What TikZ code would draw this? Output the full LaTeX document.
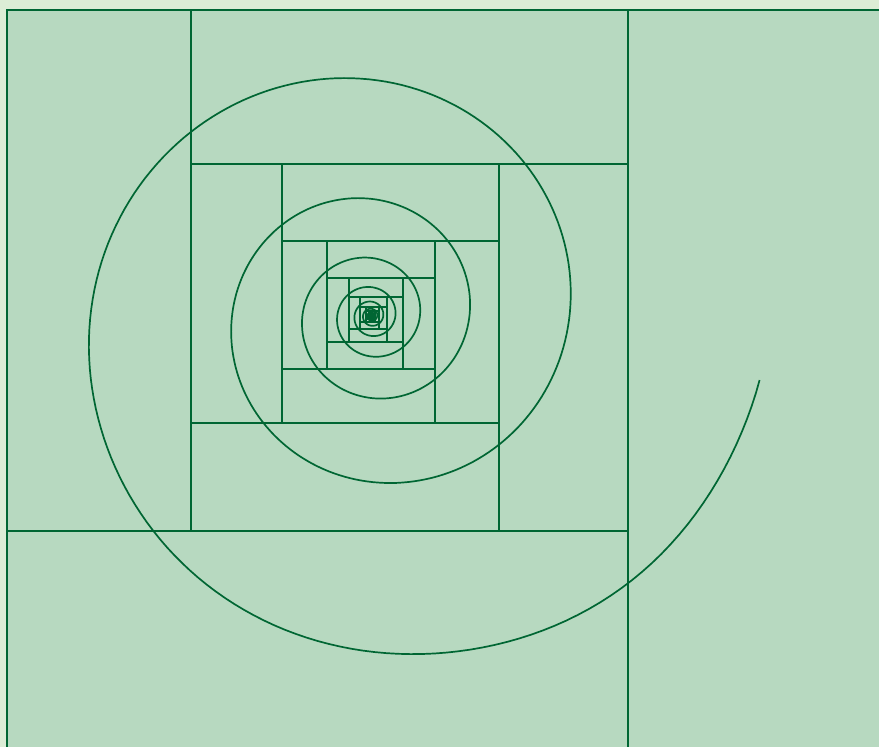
\documentclass[tikz,border=0pt]{standalone}
\usepackage{tikz}
\definecolor{bgout}{RGB}{220,237,214}
\definecolor{panel}{RGB}{183,217,192}
\definecolor{ink}{RGB}{0,102,51}
\tikzset{
  cutline/.style={draw=ink, line width=2pt},
  spiralline/.style={draw=ink, line width=1.7pt, line join=round},
}
\begin{document}
\begin{tikzpicture}[x=1pt, y=-1pt]
  \useasboundingbox (0,0) rectangle (879,747);
  \fill[bgout] (0,0) rectangle (879,747);
  \clip (0,0) rectangle (879,747);
  \def\cx{371.40}
  \def\cy{315.79}
  % outer panel
  \path[fill=panel, cutline] (7,10) rectangle (889,750);
  % nested cuts: every four cuts repeat, scaled about the centre
  \foreach \n in {0,...,12} {
    \pgfmathsetmacro{\s}{0.49593^\n}
    \pgfmathsetmacro{\xr}{round(\cx+256.60*\s)}
    \pgfmathsetmacro{\xl}{round(\cx-180.72*\s)}
    \pgfmathsetmacro{\xo}{round(\cx-364.40*\s)}
    \pgfmathsetmacro{\yt}{round(\cy-305.79*\s)}
    \pgfmathsetmacro{\yb}{round(\cy+434.21*\s)}
    \pgfmathsetmacro{\ym}{round(\cy+215.34*\s)}
    \pgfmathsetmacro{\yn}{round(\cy-151.65*\s)}
    \draw[cutline] (\xr,\yt) -- (\xr,\yb);
    \draw[cutline] (\xo,\ym) -- (\xr,\ym);
    \draw[cutline] (\xl,\yt) -- (\xl,\ym);
    \draw[cutline] (\xl,\yn) -- (\xr,\yn);
  }
  % logarithmic spiral (outer part slightly corrected)
  \draw[spiralline]
    plot[domain=0:220, samples=111, variable=\t]
      ({\cx+392.89*exp(-0.0019481*\t)*(1+0.0135*exp(max(-15,-((\t-37)/25)^2))-0.0045*exp(max(-15,-((\t-145)/30)^2)))*cos(9.406+\t)},
       {\cy+392.89*exp(-0.0019481*\t)*(1+0.0135*exp(max(-15,-((\t-37)/25)^2))-0.0045*exp(max(-15,-((\t-145)/30)^2)))*sin(9.406+\t)})
    -- plot[domain=222:3240, samples=1510, variable=\t]
      ({\cx+392.89*exp(-0.0019481*\t)*cos(9.406+\t)}, {\cy+392.89*exp(-0.0019481*\t)*sin(9.406+\t)});
\end{tikzpicture}
\end{document}
